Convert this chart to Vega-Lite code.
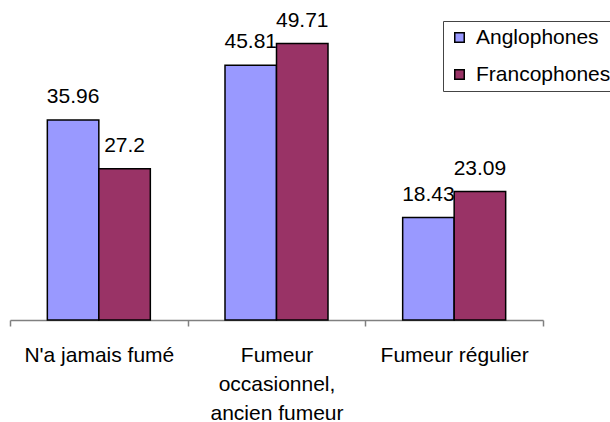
{
  "$schema": "https://vega.github.io/schema/vega-lite/v6.json",
  "width": 533,
  "height": 278,
  "autosize": {"type": "none"},
  "padding": {"left": 10, "top": 42, "right": 67, "bottom": 102},
  "background": "white",
  "config": {"view": {"stroke": null}, "font": "Liberation Sans"},
  "data": {
    "values": [
      {"cat": "N'a jamais fumé", "group": "Anglophones", "value": 35.96},
      {"cat": "N'a jamais fumé", "group": "Francophones", "value": 27.2},
      {"cat": "Fumeur occasionnel, ancien fumeur", "group": "Anglophones", "value": 45.81},
      {"cat": "Fumeur occasionnel, ancien fumeur", "group": "Francophones", "value": 49.71},
      {"cat": "Fumeur régulier", "group": "Anglophones", "value": 18.43},
      {"cat": "Fumeur régulier", "group": "Francophones", "value": 23.09}
    ]
  },
  "encoding": {
    "x": {
      "field": "cat",
      "type": "nominal",
      "sort": ["N'a jamais fumé", "Fumeur occasionnel, ancien fumeur", "Fumeur régulier"],
      "scale": {"paddingInner": 0, "paddingOuter": 0},
      "axis": {
        "title": null,
        "labelAngle": 0,
        "tickBand": "extent",
        "domainColor": "#808080",
        "tickColor": "#808080",
        "domainWidth": 1.5,
        "tickWidth": 1.5,
        "tickSize": 6,
        "labelFontSize": 21,
        "labelColor": "black",
        "labelBaseline": "alphabetic",
        "labelPadding": 35,
        "labelLineHeight": 29,
        "labelExpr": "datum.value == 'Fumeur occasionnel, ancien fumeur' ? ['Fumeur', 'occasionnel,', 'ancien fumeur'] : datum.label"
      }
    },
    "xOffset": {
      "field": "group",
      "type": "nominal",
      "scale": {"paddingInner": 0, "paddingOuter": 0.725}
    },
    "y": {
      "field": "value",
      "type": "quantitative",
      "scale": {"domain": [0, 50]},
      "axis": null
    }
  },
  "layer": [
    {
      "mark": {"type": "bar", "stroke": "black", "strokeWidth": 1.5},
      "encoding": {
        "color": {
          "field": "group",
          "type": "nominal",
          "scale": {"domain": ["Anglophones", "Francophones"], "range": ["#9999FF", "#993366"]},
          "legend": {
            "title": null,
            "orient": "none",
            "legendX": 433,
            "legendY": -21,
            "symbolType": "square",
            "symbolSize": 90,
            "symbolStrokeColor": "black",
            "symbolStrokeWidth": 1.5,
            "symbolOpacity": 1,
            "labelFontSize": 21,
            "labelColor": "black",
            "labelOffset": 6,
            "rowPadding": 15,
            "padding": 6,
            "strokeColor": "#444444",
            "fillColor": "white"
          }
        }
      }
    },
    {
      "mark": {"type": "text", "dy": -17, "baseline": "alphabetic", "fontSize": 21, "color": "black"},
      "encoding": {"text": {"field": "value", "type": "nominal"}}
    }
  ]
}
